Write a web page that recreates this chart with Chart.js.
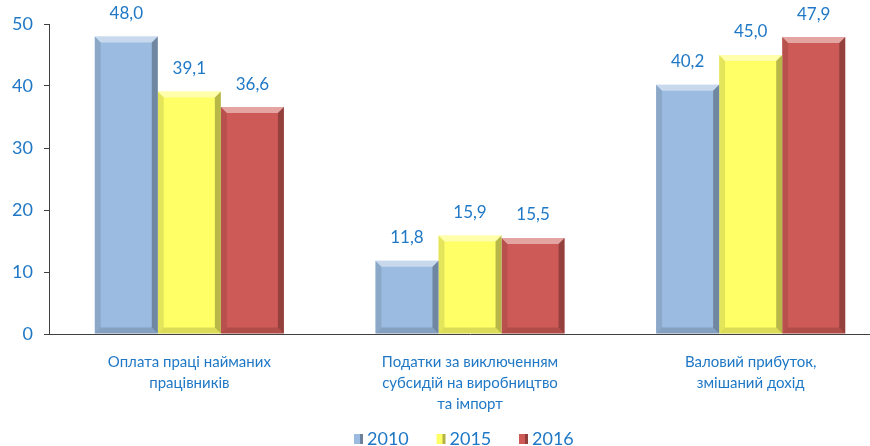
<!DOCTYPE html>
<html>
<head>
<meta charset="utf-8">
<script src="https://cdn.jsdelivr.net/npm/chart.js@4/dist/chart.umd.min.js"></script>
<style>
  html, body { margin: 0; padding: 0; background: #fff; overflow: hidden; width: 870px; height: 446px; }
  #wrap { width: 891px; height: 446px; position: relative; }
</style>
</head>
<body>
<div id="wrap"><canvas id="chart"></canvas></div>
<script>
// Chart data
const categories = [
    ['Оплата праці найманих', 'працівників'],
    ['Податки за виключенням', 'субсидій на виробництво', 'та імпорт'],
    ['Валовий прибуток,', 'змішаний дохід']
];
const years = ['2010', '2015', '2016'];
const values2010 = [48.0, 11.8, 40.2];
const values2015 = [39.1, 15.9, 45.0];
const values2016 = [36.6, 15.5, 47.9];
const yMin = 0;
const yMax = 50;
const yStep = 10;

const barColors = ['#9bbbe0', '#ffff66', '#cd5a56'];
const textBlue = '#1f78c6';
const fontFamily = 'Lato, "Noto Sans", "Open Sans", sans-serif';

// Bevel effect on top of the bars
const bevelPlugin = {
    id: 'bevel',
    afterDatasetsDraw(chart) {
        const ctx = chart.ctx;
        const b = 6;
        chart.data.datasets.forEach((ds, i) => {
            chart.getDatasetMeta(i).data.forEach(bar => {
                const left = bar.x - bar.width / 2;
                const right = bar.x + bar.width / 2;
                const top = bar.y;
                const bottom = bar.base;
                ctx.save();
                // top light edge
                ctx.fillStyle = 'rgba(255,255,255,0.45)';
                ctx.beginPath();
                ctx.moveTo(left, top); ctx.lineTo(right, top);
                ctx.lineTo(right - b, top + b); ctx.lineTo(left + b, top + b);
                ctx.closePath(); ctx.fill();
                // left edge
                ctx.fillStyle = 'rgba(0,0,0,0.1)';
                ctx.beginPath();
                ctx.moveTo(left, top); ctx.lineTo(left + b, top + b);
                ctx.lineTo(left + b, bottom - b); ctx.lineTo(left, bottom);
                ctx.closePath(); ctx.fill();
                // right dark edge
                ctx.fillStyle = 'rgba(0,0,0,0.28)';
                ctx.beginPath();
                ctx.moveTo(right, top); ctx.lineTo(right - b, top + b);
                ctx.lineTo(right - b, bottom - b); ctx.lineTo(right, bottom);
                ctx.closePath(); ctx.fill();
                // bottom edge
                ctx.fillStyle = 'rgba(0,0,0,0.14)';
                ctx.beginPath();
                ctx.moveTo(left, bottom); ctx.lineTo(left + b, bottom - b);
                ctx.lineTo(right - b, bottom - b); ctx.lineTo(right, bottom);
                ctx.closePath(); ctx.fill();
                ctx.restore();
            });
        });
    }
};

// Value labels above the bars
const valueLabels = {
    id: 'valueLabels',
    afterDatasetsDraw(chart) {
        const ctx = chart.ctx;
        ctx.save();
        ctx.font = '17px ' + fontFamily;
        ctx.fillStyle = textBlue;
        ctx.textAlign = 'center';
        ctx.textBaseline = 'middle';
        chart.data.datasets.forEach((ds, i) => {
            chart.getDatasetMeta(i).data.forEach((bar, j) => {
                const text = ds.data[j].toFixed(1).replace('.', ',');
                ctx.fillText(text, bar.x, bar.y - 23);
            });
        });
        ctx.restore();
    }
};

// Legend row at the bottom
const bottomLegend = {
    id: 'bottomLegend',
    afterDraw(chart) {
        const ctx = chart.ctx;
        const startX = 354;
        const gap = 82.5;
        const y = 439;
        ctx.save();
        ctx.font = '18px ' + fontFamily;
        ctx.textBaseline = 'middle';
        ctx.textAlign = 'left';
        chart.data.datasets.forEach((ds, i) => {
            const x = startX + i * gap;
            ctx.fillStyle = ds.backgroundColor;
            ctx.fillRect(x, y - 5, 9, 10);
            ctx.fillStyle = 'rgba(0,0,0,0.3)';
            ctx.fillRect(x + 6, y - 5, 3, 10);
            ctx.fillStyle = textBlue;
            ctx.fillText(ds.label, x + 13, y);
        });
        ctx.restore();
    }
};

const ctx = document.getElementById('chart').getContext('2d');
const chart = new Chart(ctx, {
    type: 'bar',
    data: {
        labels: categories,
        datasets: [
            { label: years[0], data: values2010, backgroundColor: barColors[0] },
            { label: years[1], data: values2015, backgroundColor: barColors[1] },
            { label: years[2], data: values2016, backgroundColor: barColors[2] }
        ]
    },
    options: {
        responsive: true,
        maintainAspectRatio: false,
        animation: false,
        layout: {
            padding: { top: 24, right: 0, bottom: 0, left: 0 }
        },
        datasets: {
            bar: {
                categoryPercentage: 0.674,
                barPercentage: 1,
                borderWidth: 0
            }
        },
        plugins: {
            legend: { display: false },
            tooltip: { enabled: false }
        },
        scales: {
            x: {
                grid: { display: false },
                border: { display: true, color: '#404040', width: 1 },
                ticks: {
                    color: textBlue,
                    font: { family: fontFamily, size: 15, lineHeight: 1.4 },
                    padding: 10,
                    maxRotation: 0,
                    autoSkip: false
                },
                afterFit: function(scale) { scale.height = 112; }
            },
            y: {
                min: yMin,
                max: yMax,
                grid: {
                    drawOnChartArea: false,
                    drawTicks: true,
                    tickLength: 5,
                    color: '#404040'
                },
                border: { display: true, color: '#404040', width: 1 },
                ticks: {
                    stepSize: yStep,
                    color: textBlue,
                    font: { family: fontFamily, size: 18 },
                    padding: 11
                },
                afterFit: function(scale) { scale.width = 49; }
            }
        }
    },
    plugins: [bevelPlugin, valueLabels, bottomLegend]
});
</script>
</body>
</html>
